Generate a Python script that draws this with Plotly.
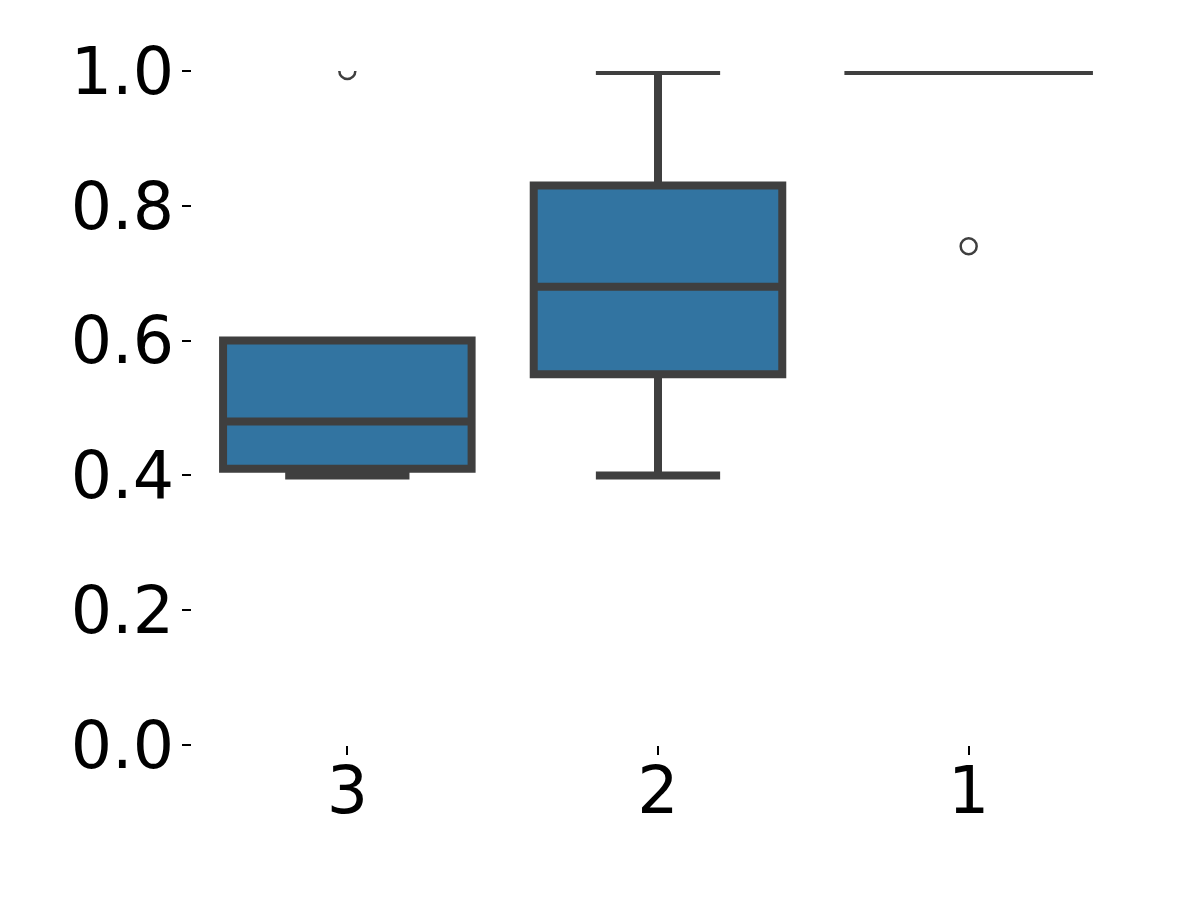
import plotly.graph_objects as go

# box statistics (seaborn-style boxplot)
categories = ["3", "2", "1"]
q1 = [0.41, 0.55, 1.0]
median = [0.48, 0.68, 1.0]
q3 = [0.60, 0.83, 1.0]
lower_fence = [0.40, 0.40, 1.0]
upper_fence = [0.60, 1.0, 1.0]

outlier_cats = ["3", "1"]
outlier_vals = [1.0, 0.74]

y_ticks = [0.0, 0.2, 0.4, 0.6, 0.8, 1.0]

edge = "#3f3f3f"
fill = "#3274a1"

fig = go.Figure()

fig.add_trace(go.Box(
    x=categories,
    q1=q1,
    median=median,
    q3=q3,
    lowerfence=lower_fence,
    upperfence=upper_fence,
    fillcolor=fill,
    line=dict(color=edge, width=8),
    whiskerwidth=0.5,
    boxpoints=False,
    showlegend=False,
    hoverinfo="skip",
))

fig.add_trace(go.Scatter(
    x=outlier_cats,
    y=outlier_vals,
    mode="markers",
    marker=dict(symbol="circle-open", size=16, color=edge, line=dict(width=2.5, color=edge)),
    showlegend=False,
    hoverinfo="skip",
))

fig.update_layout(
    width=1196,
    height=897,
    margin=dict(l=192, r=72, t=71, b=152),
    paper_bgcolor="white",
    plot_bgcolor="white",
    boxgap=0.2,
    boxgroupgap=0,
    font=dict(family="DejaVu Sans", size=65, color="black"),
)

fig.update_xaxes(
    type="category",
    categoryorder="array",
    categoryarray=categories,
    range=[-0.5, 2.5],
    showgrid=False,
    showline=False,
    zeroline=False,
    ticks="outside",
    ticklen=9,
    tickwidth=1.5,
    tickcolor="black",
    ticklabelstandoff=-20,
)

fig.update_yaxes(
    range=[0, 1],
    tickvals=y_ticks,
    ticktext=[f"{v:.1f}" for v in y_ticks],
    showgrid=False,
    showline=False,
    zeroline=False,
    ticks="outside",
    ticklen=9,
    tickwidth=1.5,
    tickcolor="black",
    ticklabelstandoff=-5,
)

fig.write_html(
    "out.html",
    config={"displayModeBar": False},
    post_script="document.body.style.margin='0';",
)
